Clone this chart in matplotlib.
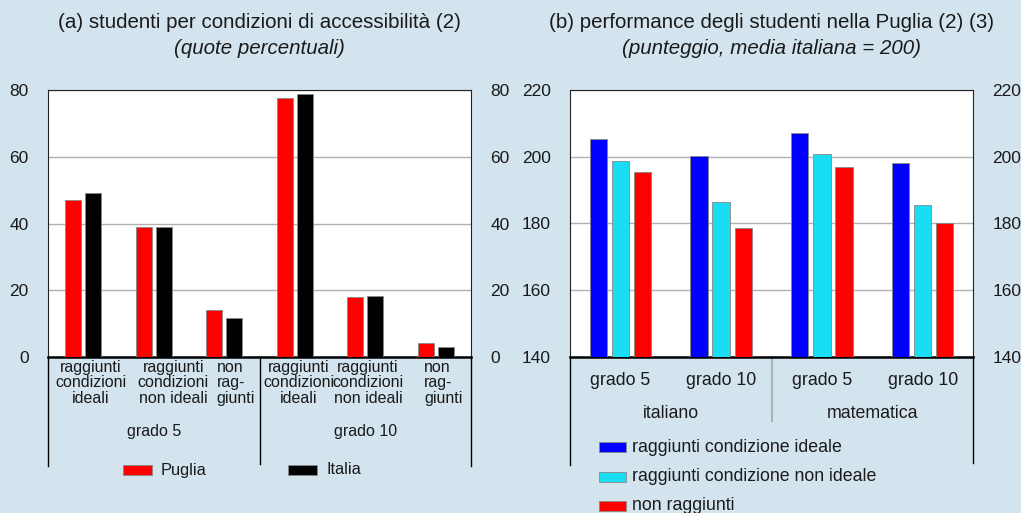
import matplotlib
matplotlib.use("Agg")
import matplotlib.pyplot as plt
import numpy as np
from matplotlib.patches import Rectangle
from matplotlib.lines import Line2D

plt.rcParams['font.family'] = ['Liberation Sans', 'DejaVu Sans']

# ---- data ----
left_categories = ["raggiunti\ncondizioni\nideali", "raggiunti\ncondizioni\nnon ideali", "non\nrag-\ngiunti",
                   "raggiunti\ncondizioni\nideali", "raggiunti\ncondizioni\nnon ideali", "non\nrag-\ngiunti"]
left_groups = ["grado 5", "grado 10"]
puglia = [47.0, 38.9, 14.2, 77.5, 18.1, 4.1]
italia = [49.2, 38.9, 11.8, 78.7, 18.2, 3.0]
left_series = ["Puglia", "Italia"]

right_categories = ["grado 5", "grado 10", "grado 5", "grado 10"]
right_groups = ["italiano", "matematica"]
ideale = [205.4, 200.3, 207.0, 198.0]
non_ideale = [198.6, 186.3, 200.7, 185.5]
non_raggiunti = [195.4, 178.8, 197.0, 180.2]
right_series = ["raggiunti condizione ideale", "raggiunti condizione non ideale", "non raggiunti"]

left_title = "(a) studenti per condizioni di accessibilità (2)"
left_subtitle = "(quote percentuali)"
right_title = "(b) performance degli studenti nella Puglia (2) (3)"
right_subtitle = "(punteggio, media italiana = 200)"

BG = "#D3E4EE"
TXT = "#1a1a1a"
W, H = 1021, 513
fig = plt.figure(figsize=(W / 100, H / 100), dpi=100, facecolor=BG)


def rect(x0, y0, x1, y1):
    return [x0 / W, 1 - y1 / H, (x1 - x0) / W, (y1 - y0) / H]


FS = 12.5
TFS = 14.8

# ---------------- left panel ----------------
axL = fig.add_axes(rect(48, 90, 471, 357))
x = np.arange(len(left_categories))
bw = 0.23
axL.bar(x - 0.142, puglia, bw, color="#FF0000", edgecolor="#888888", linewidth=0.6, zorder=3)
axL.bar(x + 0.142, italia, bw, color="#000000", edgecolor="#888888", linewidth=0.6, zorder=3)
axL.set_xlim(-0.5, len(left_categories) - 0.5)
axL.set_ylim(0, 80)
axL.set_yticks([0, 20, 40, 60, 80])
axL.yaxis.grid(True, color="#b0b0b0", linewidth=1.0, zorder=0)
axL.tick_params(axis='y', length=0, labelsize=FS, pad=14, labelcolor=TXT, labelright=True)
# label placement shifts (layout, in category units) as in the reference
label_shift = np.array([0.107, 0.275, 0.166, 0.06, 0.04, 0.107])
axL.set_xticks(x + label_shift)
axL.set_xticklabels(left_categories, fontsize=11.5, linespacing=1.05, color=TXT)
for lab in axL.get_xticklabels():
    if lab.get_text().startswith("non"):
        lab.set_multialignment("left")
axL.tick_params(axis='x', length=0, pad=2)
for s in axL.spines.values():
    s.set_color("#222222")
    s.set_linewidth(0.8)
axL.spines['bottom'].set_linewidth(1.8)
axL.spines['bottom'].set_color("black")
trL = axL.get_xaxis_transform()
for xv, yb in [(-0.5, -0.41), (2.5, -0.40), (5.5, -0.41)]:
    axL.add_line(Line2D([xv, xv], [0, yb], transform=trL, color="black", linewidth=1.0, clip_on=False))
for i, g in enumerate(left_groups):
    axL.text(1 + 3 * i, -0.28, g, transform=trL, ha="center", va="center", fontsize=11.5, color=TXT)
fig.text(259 / W, 1 - 22 / H, left_title, ha="center", va="center", fontsize=TFS, color=TXT)
fig.text(259 / W, 1 - 48 / H, left_subtitle, ha="center", va="center", fontsize=TFS, style="italic", color=TXT)

# left legend
for lx, col, lab in [(123, "#FF0000", left_series[0]), (288, "#000000", left_series[1])]:
    fig.patches.append(Rectangle((lx / W, 1 - 475 / H), 29 / W, 10 / H, transform=fig.transFigure,
                                 facecolor=col, edgecolor="#888888", linewidth=0.6))
    fig.text((lx + 38) / W, 1 - 470 / H, lab, ha="left", va="center", fontsize=11.8, color=TXT)

# ---------------- right panel ----------------
axR = fig.add_axes(rect(570, 90, 973, 357))
xr = np.arange(len(right_categories))
bw2 = 0.172
colsR = ["#0000FF", "#19DDF2", "#FF0000"]
for off, vals, col in zip([-0.22, 0, 0.22], [ideale, non_ideale, non_raggiunti], colsR):
    axR.bar(xr + off, vals, bw2, color=col, edgecolor="#888888", linewidth=0.6, zorder=3)
axR.set_xlim(-0.5, len(right_categories) - 0.5)
axR.set_ylim(140, 220)
axR.set_yticks([140, 160, 180, 200, 220])
axR.yaxis.grid(True, color="#b0b0b0", linewidth=1.0, zorder=0)
axR.tick_params(axis='y', length=0, labelsize=FS, pad=14, labelcolor=TXT, labelright=True)
axR.set_xticks(xr)
axR.set_xticklabels(right_categories, fontsize=12.8, color=TXT)
axR.tick_params(axis='x', length=0, pad=11)
for s in axR.spines.values():
    s.set_color("#222222")
    s.set_linewidth(0.8)
axR.spines['bottom'].set_linewidth(1.8)
axR.spines['bottom'].set_color("black")
trR = axR.get_xaxis_transform()
axR.add_line(Line2D([-0.5, -0.5], [0, -0.405], transform=trR, color="black", linewidth=1.0, clip_on=False))
axR.add_line(Line2D([3.5, 3.5], [0, -0.397], transform=trR, color="black", linewidth=1.0, clip_on=False))
axR.add_line(Line2D([1.5, 1.5], [0, -0.24], transform=trR, color="#aab4bb", linewidth=1.5, clip_on=False))
for i, g in enumerate(right_groups):
    axR.text(0.5 + 2 * i, -0.21, g, transform=trR, ha="center", va="center", fontsize=12.8, color=TXT)
fig.text(771 / W, 1 - 22 / H, right_title, ha="center", va="center", fontsize=TFS, color=TXT)
fig.text(771 / W, 1 - 48 / H, right_subtitle, ha="center", va="center", fontsize=TFS, style="italic", color=TXT)

# right legend
for k, (col, lab) in enumerate(zip(colsR, right_series)):
    yc = 447 + 29.5 * k
    fig.patches.append(Rectangle((599 / W, 1 - (yc + 5) / H), 27 / W, 10 / H, transform=fig.transFigure,
                                 facecolor=col, edgecolor="#888888", linewidth=0.6))
    fig.text(632 / W, 1 - yc / H, lab, ha="left", va="center", fontsize=12.8, color=TXT)

fig.savefig("out.png", dpi=100, facecolor=BG)
